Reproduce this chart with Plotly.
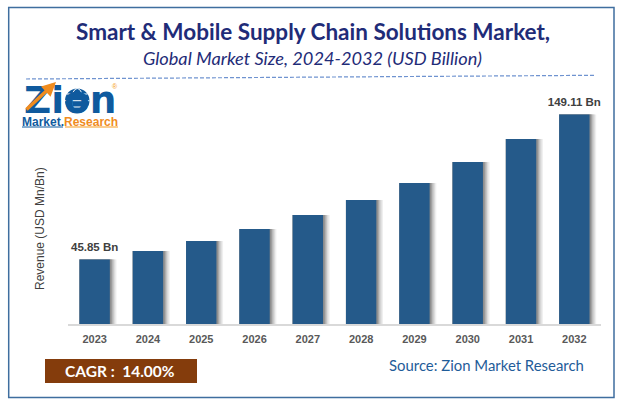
import plotly.graph_objects as go

years = ["2023","2024","2025","2026","2027","2028","2029","2030","2031","2032"]
revenue = [45.85, 51.9, 59.0, 67.6, 77.6, 88.3, 100.4, 115.3, 131.7, 149.11]
labels = ["<b>45.85 Bn</b>","","","","","","","","","<b>149.11 Bn</b>"]

W, H = 623, 407
L, R, T, B = 68, 22, 95, 83
def px(x): return (x - L) / (W - L - R)
def py(y): return 1 - (y - T) / (H - T - B)

BAR = "#255A8A"
BW = 0.57
fig = go.Figure()
# soft right-hand shadow, layered from light to dark
for extra, col in [(0.125, "#EFEFEF"), (0.10, "#DCDCDC"), (0.075, "#C4C4C4"), (0.05, "#A8A8A8"), (0.03, "#8E8E8E")]:
    fig.add_trace(go.Bar(x=years, y=revenue, marker=dict(color=col, line_width=0),
                         width=BW + extra, offset=-BW / 2, hoverinfo="skip", showlegend=False))
fig.add_trace(go.Bar(x=years, y=revenue, marker=dict(color=BAR, line_width=0), width=BW, offset=-BW / 2,
                     showlegend=False))
# data labels sit on an invisible marker so the gap above the bar matches
fig.add_trace(go.Scatter(x=years, y=revenue, mode="markers+text", text=labels, textposition="top center",
                         marker=dict(size=7, opacity=0), cliponaxis=False, hoverinfo="skip", showlegend=False,
                         textfont=dict(family="Liberation Sans", size=11.5, color="#404040")))

ann = []
def text(x, y, s, size, color, family="Lato", **kw):
    ann.append(dict(x=px(x), y=py(y), xref="paper", yref="paper", text=s, showarrow=False,
                    font=dict(family=family, size=size, color=color), xanchor=kw.pop("xanchor", "center"),
                    yanchor="middle", **kw))

NAVY = "#1F2C78"
text(312.5, 31, "<b>Smart &amp; Mobile Supply Chain Solutions Market,</b>", 22.5, NAVY)
text(312, 58, "<i>Global Market Size, 2024-2032 (USD Billion)</i>", 18.2, NAVY)
text(120, 371, "<b>CAGR :  14.00%</b>", 15.5, "#FFFFFF")
text(486.5, 365, "Source: Zion Market Research", 14.9, "#1F5C99")
text(40, 229, "Revenue (USD Mn/Bn)", 12, "#404040", family="Liberation Sans", textangle=-90)

# logo
LOGO = "#0F5A9E"
ORANGE = "#F08C1E"
text(70.5, 100, "<b>Zion</b>", 37.5, LOGO, family="DejaVu Sans", height=30)
text(70, 121.5, f'<b>Market.<span style="color:{ORANGE}">Research</span></b>', 12, LOGO, family="Liberation Sans", height=12)
text(115, 86, "®", 7, "#F59B23", family="Liberation Sans")
ann.append(dict(x=px(56), y=py(82), xref="paper", yref="paper", text="", showarrow=True,
                ax=-31, ay=29, arrowcolor=ORANGE, arrowwidth=3.5, arrowhead=2, arrowsize=0.8))

def rect(x0, y0, x1, y1, **kw):
    return dict(type="rect", xref="paper", yref="paper", x0=px(x0), x1=px(x1), y0=py(y0), y1=py(y1), **kw)
def seg(x0, y0, x1, y1, color, width, dash="solid"):
    return dict(type="line", xref="paper", yref="paper", x0=px(x0), x1=px(x1), y0=py(y0), y1=py(y1),
                line=dict(color=color, width=width, dash=dash))

shapes = [
    rect(8.7, 7.5, 614, 397.5, line=dict(color="#3F6E9F", width=1.5), fillcolor="rgba(0,0,0,0)"),
    seg(26, 79, 596, 75.3, "#6F93D0", 1.2, "4px,2px"),
    rect(45, 359, 197, 383, fillcolor="#843C0C", line_width=0, layer="below"),
    # logo globe
    dict(type="circle", xref="paper", yref="paper", x0=px(65), x1=px(89.5), y0=py(113), y1=py(88.5),
         fillcolor=LOGO, line_width=0),
    dict(type="circle", xref="paper", yref="paper", x0=px(71.5), x1=px(83), y0=py(113), y1=py(88.5),
         fillcolor="rgba(0,0,0,0)", line=dict(color="#FFFFFF", width=1)),
    seg(65, 100.7, 89.5, 100.7, "#FFFFFF", 1),
    seg(67, 94, 87.5, 94, "#FFFFFF", 1),
    seg(67, 107, 87.5, 107, "#FFFFFF", 1),
    # logo underline
    seg(22, 127, 63, 127, LOGO, 1),
    seg(65, 127, 118, 127, "#F59B23", 1),
]

fig.update_layout(
    width=W, height=H, autosize=False, barmode="overlay",
    margin=dict(l=L, r=R, t=T, b=B, pad=0),
    paper_bgcolor="white", plot_bgcolor="white",
    xaxis=dict(type="category", range=[-0.5, 9.5], showgrid=False, zeroline=False, showline=True,
               linecolor="#D9D9D9", linewidth=1.5, ticks="", ticklabelstandoff=4,
               tickfont=dict(family="Liberation Sans", size=11, color="#595959", weight="bold")),
    yaxis=dict(range=[0, 163], visible=False),
    annotations=ann, shapes=shapes, showlegend=False,
)
fig.write_html("out.html", post_script="document.body.style.margin='0';", config=dict(displayModeBar=False))
